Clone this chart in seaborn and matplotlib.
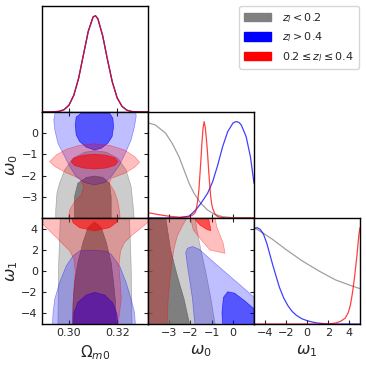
import matplotlib
matplotlib.use("Agg")
import matplotlib.pyplot as plt
import seaborn as sns
from matplotlib.patches import Patch

# ---------------- 1D marginals (normalised to peak = 1) ----------------
om_x = [0.289, 0.293, 0.296, 0.298, 0.300, 0.302, 0.304, 0.306, 0.308, 0.310, 0.311,
        0.312, 0.314, 0.316, 0.318, 0.320, 0.322, 0.324, 0.326, 0.329, 0.333]
om_pdf = [0.0, 0.001, 0.007, 0.025, 0.071, 0.174, 0.35, 0.594, 0.837, 0.986, 0.999,
          0.967, 0.79, 0.54, 0.31, 0.147, 0.059, 0.019, 0.005, 0.001, 0.0]

w0_gray_x = [-4.03, -3.65, -3.17, -2.86, -2.54, -2.30, -2.06, -1.83, -1.51, -1.19, -0.87, -0.48, 0.0, 1.0]
w0_gray_y = [0.99, 0.965, 0.88, 0.775, 0.637, 0.498, 0.36, 0.256, 0.152, 0.083, 0.038, 0.014, 0.003, 0.0]
w0_blue_x = [-4.0, -3.0, -2.54, -2.06, -1.75, -1.51, -1.19, -0.95, -0.71, -0.48, -0.24, 0.0, 0.1,
             0.19, 0.3, 0.40, 0.63, 0.83, 1.0]
w0_blue_y = [0.0, 0.0, 0.002, 0.02, 0.083, 0.15, 0.256, 0.377, 0.55, 0.74, 0.896, 0.983, 0.997,
             1.0, 0.99, 0.965, 0.844, 0.637, 0.36]
w0_red_x = [-4.0, -3.5, -3.0, -2.5, -2.1, -1.9, -1.8, -1.75, -1.7, -1.65, -1.6, -1.55, -1.5, -1.45,
            -1.4, -1.35, -1.3, -1.25, -1.2, -1.15, -1.1, -1.05, -1.0, -0.95, -0.85, -0.75, -0.6,
            -0.3, 1.0]
w0_red_y = [0.055, 0.035, 0.018, 0.008, 0.01, 0.03, 0.05, 0.07, 0.12, 0.19, 0.29, 0.45, 0.62, 0.80,
            0.94, 1.0, 0.94, 0.83, 0.70, 0.53, 0.38, 0.24, 0.15, 0.10, 0.045, 0.02, 0.007,
            0.0, 0.0]

w1_gray_x = [-5.0, -4.20, -3.26, -2.01, -0.44, 1.13, 2.70, 4.26, 5.0]
w1_gray_y = [1.0, 0.948, 0.879, 0.775, 0.654, 0.55, 0.457, 0.394, 0.367]
w1_blue_x = [-5.0, -4.7, -4.4, -4.1, -3.8, -3.5, -3.2, -2.9, -2.6, -2.2, -1.8, -1.4, -1.0, -0.5,
             0.0, 0.5, 1.0, 1.5, 2.0, 2.5, 5.0]
w1_blue_y = [0.99, 1.0, 0.98, 0.93, 0.84, 0.72, 0.60, 0.49, 0.38, 0.27, 0.19, 0.13, 0.09, 0.055,
             0.035, 0.02, 0.01, 0.005, 0.002, 0.0, 0.0]
w1_red_x = [-5.0, 2.0, 2.7, 3.2, 3.6, 3.9, 4.1, 4.3, 4.5, 4.7, 4.9, 5.0]
w1_red_y = [0.0, 0.0, 0.01, 0.03, 0.06, 0.12, 0.2, 0.33, 0.5, 0.7, 0.93, 1.0]

# ---------------- 2D credible regions (outer = 95%, inner = 68%) ----------------
# Omega_m0 vs w0
ow0_gray_out_x = [0.2945, 0.2945, 0.2950, 0.2961, 0.2982, 0.3017, 0.3065, 0.3106, 0.3155, 0.3203,
                  0.3237, 0.3258, 0.3268, 0.3271]
ow0_gray_out_y = [-4.1, -3.62, -2.83, -2.36, -1.73, -1.18, -0.90, -0.82, -0.90, -1.18, -1.73,
                  -2.52, -3.62, -4.1]
ow0_gray_in_x = [0.3023, 0.3023, 0.3037, 0.3072, 0.3106, 0.3141, 0.3168, 0.3175, 0.3175]
ow0_gray_in_y = [-4.1, -2.99, -2.36, -2.09, -2.02, -2.09, -2.36, -2.99, -4.1]
ow0_blue_out_x = [0.2945, 0.2937, 0.2941, 0.2954, 0.2975, 0.3003, 0.3030, 0.3065, 0.3106, 0.3148,
                  0.3175, 0.3210, 0.3237, 0.3258, 0.3272, 0.3279, 0.3276]
ow0_blue_out_y = [1.1, 0.63, 0.16, -0.47, -0.94, -1.57, -2.05, -2.33, -2.44, -2.33, -2.05, -1.50,
                  -0.87, -0.31, 0.31, 0.79, 1.1]
ow0_blue_in_x = [0.3051, 0.3168, 0.3182, 0.3185, 0.3179, 0.3161, 0.3134, 0.3106, 0.3072, 0.3044,
                 0.3030, 0.3026, 0.3030]
ow0_blue_in_y = [0.95, 0.95, 0.71, 0.31, -0.16, -0.47, -0.71, -0.79, -0.66, -0.39, -0.08, 0.39, 0.76]
ow0_red_out_x = [0.2920, 0.2948, 0.2989, 0.3044, 0.3106, 0.3168, 0.3230, 0.3272, 0.3293, 0.3272,
                 0.3230, 0.3175, 0.3168, 0.3189, 0.3203, 0.3210, 0.3213, 0.2996, 0.3003, 0.3023,
                 0.3051, 0.3061, 0.3044, 0.2989, 0.2941]
ow0_red_out_y = [-1.34, -1.02, -0.76, -0.57, -0.50, -0.57, -0.79, -1.10, -1.37, -1.61, -1.90,
                 -2.13, -2.36, -2.76, -3.23, -3.70, -4.1, -4.1, -3.62, -3.23, -2.91, -2.52, -2.13,
                 -1.87, -1.57]
ow0_red_in_x = [0.3203, 0.3190, 0.3155, 0.3106, 0.3058, 0.3022, 0.3009, 0.3022, 0.3058, 0.3106,
                0.3155, 0.3190]
ow0_red_in_y = [-1.34, -1.165, -1.04, -0.99, -1.04, -1.165, -1.34, -1.515, -1.64, -1.69, -1.64,
                -1.515]

# Omega_m0 vs w1
ow1_gray_out_x = [0.2964, 0.2957, 0.2954, 0.3262, 0.3258, 0.3251]
ow1_gray_out_y = [5.1, 0.5, -5.1, -5.1, 0.5, 5.1]
ow1_gray_in_x = [0.3014, 0.3017, 0.3023, 0.3037, 0.3058, 0.3079, 0.3106, 0.3134, 0.3155, 0.3175,
                 0.3185, 0.3193, 0.3196]
ow1_gray_in_y = [-5.1, -2.96, -1.08, 0.80, 2.68, 4.09, 4.63, 4.09, 2.68, 0.80, -1.08, -2.96, -5.1]
ow1_blue_out_x = [0.2931, 0.2934, 0.2941, 0.2961, 0.2989, 0.3017, 0.3044, 0.3099, 0.3155, 0.3175,
                  0.3210, 0.3237, 0.3258, 0.3272, 0.3276]
ow1_blue_out_y = [-5.1, -3.91, -2.65, -1.08, 0.49, 1.43, 1.90, 1.96, 1.87, 1.58, 0.49, -1.08,
                  -2.65, -3.91, -5.1]
ow1_blue_in_x = [0.3017, 0.3021, 0.3037, 0.3072, 0.3106, 0.3148, 0.3182, 0.3199, 0.3203]
ow1_blue_in_y = [-5.1, -3.91, -2.96, -2.27, -2.02, -2.27, -3.03, -4.06, -5.1]
ow1_red_out_x = [0.2880, 0.3335, 0.3335, 0.3293, 0.3258, 0.3230, 0.3214, 0.3207, 0.3213, 0.3217,
                 0.3210, 0.3203, 0.3017, 0.3017, 0.3021, 0.3026, 0.3021, 0.3003, 0.2975, 0.2941,
                 0.2906, 0.2880]
ow1_red_out_y = [5.1, 5.1, 4.72, 3.94, 3.31, 2.68, 1.90, 0.49, -1.08, -2.65, -3.91, -5.1, -5.1,
                 -3.28, -1.71, -0.14, 1.11, 1.90, 2.53, 3.31, 4.09, 4.72]
ow1_red_in_x = [0.3010, 0.3017, 0.3044, 0.3106, 0.3168, 0.3196, 0.3203]
ow1_red_in_y = [5.1, 4.56, 4.09, 3.78, 4.09, 4.56, 5.1]

# w0 vs w1
ww_gray_out_x = [-4.3, -1.78, -1.67, -1.51, -1.27, -1.03, -0.83, -4.3]
ww_gray_out_y = [5.1, 5.1, 3.62, 2.05, -0.14, -2.65, -5.1, -5.1]
ww_gray_in_x = [-4.3, -3.17, -2.94, -2.62, -2.30, -2.03, -4.3]
ww_gray_in_y = [5.1, 5.1, 2.05, -0.45, -2.65, -5.1, -5.1]
ww_blue_out_x = [-1.78, -1.83, -1.90, -2.02, -2.14, -2.22, -2.14, -1.90, -1.59, -1.27, -0.79,
                 -0.16, 0.48, 1.1, 1.1]
ww_blue_out_y = [-5.1, -4.22, -2.65, -1.08, 0.49, 1.74, 2.15, 2.31, 2.05, 1.49, 0.64, -0.45,
                 -1.55, -2.65, -5.1]
ww_blue_in_x = [-0.48, -0.51, -0.44, -0.24, 0.08, 0.56, 1.1, 1.1]
ww_blue_in_y = [-5.1, -3.91, -2.49, -1.96, -2.09, -2.81, -3.75, -5.1]
ww_red_out_x = [-4.3, -2.14, -2.38, -2.62, -2.78, -2.89, -2.98, -3.05, -3.10, -4.3]
ww_red_out_y = [5.1, 5.1, 4.25, 3.31, 2.05, 0.49, -1.08, -2.65, -5.1, -5.1]
ww_red_out2_x = [-2.02, -0.84, -0.76, -0.45, -0.37, -1.08, -1.55, -1.86]
ww_red_out2_y = [5.1, 5.1, 4.18, 2.61, 1.67, 1.98, 3.08, 3.87]
ww_red_in_x = [-1.78, -1.16, -1.08, -1.04, -1.23, -1.55, -1.74]
ww_red_in_y = [5.1, 5.1, 4.34, 3.80, 3.93, 4.34, 4.75]

labels = ["$z_l<0.2$", "$z_l>0.4$", r"$0.2\leq z_l\leq0.4$"]
colors = ["gray", "blue", "red"]

# ---------------- figure ----------------
sns.set_style("ticks")
plt.rcParams["font.family"] = ["DejaVu Sans"]
plt.rcParams["mathtext.fontset"] = "dejavusans"

fig, axes = plt.subplots(3, 3, figsize=(3.66, 3.65), dpi=100)
fig.subplots_adjust(left=42 / 366, right=360 / 366, bottom=1 - 324 / 365, top=1 - 6 / 365,
                    wspace=0, hspace=0)
for (r, c) in [(0, 1), (0, 2), (1, 2)]:
    axes[r, c].set_visible(False)

OM_LIM = (0.2888, 0.3328)
W0_LIM = (-4.0, 1.0)
W1_LIM = (-5.0, 5.0)

RGB = {"gray": (0.4, 0.4, 0.4), "blue": (0.0, 0.0, 1.0), "red": (1.0, 0.0, 0.0)}
A_OUT = {"gray": 0.33, "blue": 0.25, "red": 0.25}
A_IN = {"gray": 0.75, "blue": 0.55, "red": 0.6}


def region(ax, xs, ys, col, inner):
    a = A_IN[col] if inner else A_OUT[col]
    ax.fill(xs, ys, facecolor=RGB[col] + (a,), edgecolor=RGB[col] + (min(1, a + 0.15),),
            lw=0.5)


def line(ax, xs, ys, col):
    sns.lineplot(x=xs, y=ys, ax=ax, color=col, lw=0.9, alpha=0.75, sort=False,
                 estimator=None)


# diagonal
d0, d1, d2 = axes[0, 0], axes[1, 1], axes[2, 2]
for col in colors:
    line(d0, om_x, om_pdf, col)
line(d1, w0_gray_x, w0_gray_y, "gray")
line(d1, w0_blue_x, w0_blue_y, "blue")
line(d1, w0_red_x, w0_red_y, "red")
line(d2, w1_gray_x, w1_gray_y, "gray")
line(d2, w1_blue_x, w1_blue_y, "blue")
line(d2, w1_red_x, w1_red_y, "red")

# Omega - w0
a = axes[1, 0]
region(a, ow0_gray_out_x, ow0_gray_out_y, "gray", False)
region(a, ow0_gray_in_x, ow0_gray_in_y, "gray", True)
region(a, ow0_blue_out_x, ow0_blue_out_y, "blue", False)
region(a, ow0_blue_in_x, ow0_blue_in_y, "blue", True)
region(a, ow0_red_out_x, ow0_red_out_y, "red", False)
region(a, ow0_red_in_x, ow0_red_in_y, "red", True)

# Omega - w1
a = axes[2, 0]
region(a, ow1_gray_out_x, ow1_gray_out_y, "gray", False)
region(a, ow1_gray_in_x, ow1_gray_in_y, "gray", True)
region(a, ow1_blue_out_x, ow1_blue_out_y, "blue", False)
region(a, ow1_blue_in_x, ow1_blue_in_y, "blue", True)
region(a, ow1_red_out_x, ow1_red_out_y, "red", False)
region(a, ow1_red_in_x, ow1_red_in_y, "red", True)

# w0 - w1
a = axes[2, 1]
region(a, ww_gray_out_x, ww_gray_out_y, "gray", False)
region(a, ww_gray_in_x, ww_gray_in_y, "gray", True)
region(a, ww_blue_out_x, ww_blue_out_y, "blue", False)
region(a, ww_blue_in_x, ww_blue_in_y, "blue", True)
region(a, ww_red_out_x, ww_red_out_y, "red", False)
region(a, ww_red_out2_x, ww_red_out2_y, "red", False)
region(a, ww_red_in_x, ww_red_in_y, "red", True)

# limits & ticks
xl = {0: OM_LIM, 1: W0_LIM, 2: W1_LIM}
xt = {0: [0.30, 0.32], 1: [-3, -2, -1, 0], 2: [-4, -2, 0, 2, 4]}
for r in range(3):
    for c in range(r + 1):
        ax = axes[r, c]
        ax.set_xlim(xl[c])
        ax.set_xticks(xt[c])
        for s in ax.spines.values():
            s.set_visible(True)
            s.set_color("black")
            s.set_linewidth(1.0)
        ax.set_xlabel("")
        ax.set_ylabel("")
        if r == c:
            ax.set_ylim(0, 1.1)
            ax.set_yticks([])
            ax.tick_params(axis="x", direction="in", length=3, width=0.8, top=False,
                           bottom=True, labelsize=8, pad=3)
        else:
            ax.set_ylim(xl[r])
            ax.set_yticks(xt[r])
            ax.tick_params(direction="in", length=3, width=0.8, top=True, right=True,
                           bottom=True, left=True, labelsize=8, pad=3)
        if r != 2:
            ax.tick_params(labelbottom=False)
        if c != 0 or r == c:
            ax.tick_params(labelleft=False)

axes[2, 0].set_xticklabels(["0.30", "0.32"])
axes[2, 0].set_xlabel(r"$\Omega_{m0}$", fontsize=11)
axes[2, 1].set_xlabel(r"$\omega_0$", fontsize=11.5)
axes[2, 2].set_xlabel(r"$\omega_1$", fontsize=11.5)
axes[1, 0].set_ylabel(r"$\omega_0$", fontsize=11.5, labelpad=1)
axes[2, 0].set_ylabel(r"$\omega_1$", fontsize=11.5, labelpad=1)

handles = [Patch(facecolor=c, edgecolor=c) for c in colors]
fig.legend(handles, labels, loc="upper right", bbox_to_anchor=(359 / 366, 1 - 6 / 365),
           borderaxespad=0, fontsize=8, handlelength=2.4, handleheight=0.8, borderpad=0.45,
           handletextpad=1.0, labelspacing=0.5, frameon=True)

fig.savefig("out.png", dpi=100)
